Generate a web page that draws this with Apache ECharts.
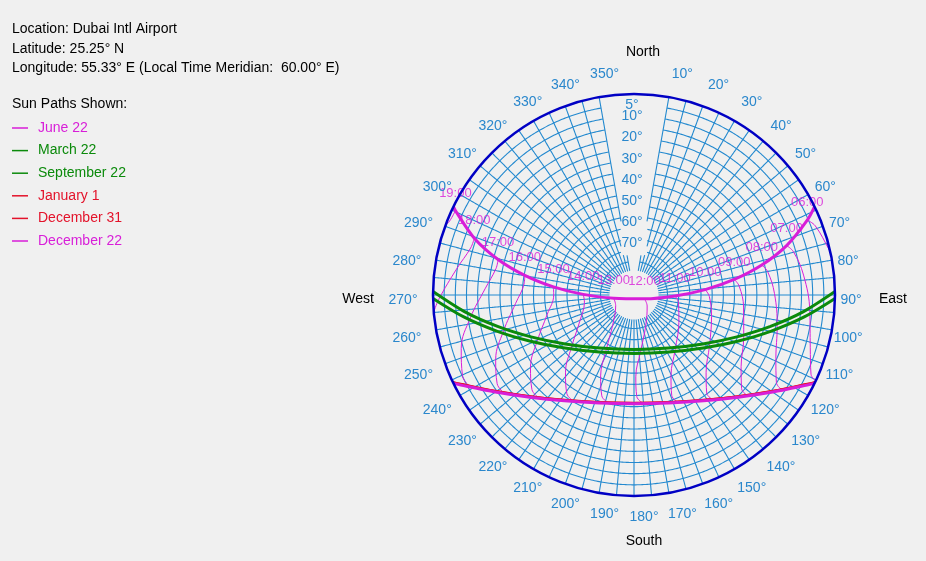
<!DOCTYPE html>
<html>
<head>
<meta charset="utf-8">
<script src="https://cdn.jsdelivr.net/npm/echarts@6/dist/echarts.min.js"></script>
<style>
  html, body { margin: 0; padding: 0; background: #f0f0f0; }
  #chart { width: 926px; height: 561px; }
</style>
</head>
<body>
<div id="chart"></div>
<script>
// Sun positions are [altitude in degrees, azimuth in degrees clockwise from north].

const june22 = [[0, 63.91], [5.49, 66.64], [18.18, 72.06], [31.25, 76.81], [44.57, 81.21], [58.04, 85.70],
  [71.62, 91.40], [85.00, 110.15], [80.82, 260.69], [67.28, 270.70], [53.76, 275.77], [40.30, 280.18],
  [27.08, 284.64], [14.11, 289.57], [1.56, 295.28], [0, 296.09]];

const march22 = [[0, 89.0], [13.93, 95.69], [27.31, 102.94], [40.25, 112.12], [52.18, 125.39], [61.67, 146.95],
  [65.65, 180], [61.67, 213.05], [52.18, 234.61], [40.25, 247.88], [27.31, 257.06], [13.93, 264.31], [0, 271.0]];

const september22 = [[0, 91.0], [13.14, 97.35], [26.45, 104.72], [39.25, 114.07], [50.94, 127.50], [60.09, 148.73],
  [63.85, 180], [60.09, 211.27], [50.94, 232.50], [39.25, 245.93], [26.45, 255.28], [13.14, 262.65], [0, 269.0]];

const january1 = [[0, 115.6], [2.80, 117.10], [14.45, 124.60], [24.96, 134.12], [33.66, 146.43], [39.60, 161.99],
  [41.75, 180], [39.60, 198.01], [33.66, 213.57], [24.96, 225.88], [14.45, 235.40], [2.80, 242.90], [0, 244.4]];

const december31 = [[0, 115.7], [2.76, 117.18], [14.40, 124.67], [24.90, 134.19], [33.58, 146.49], [39.52, 162.03],
  [41.66, 180], [39.52, 197.97], [33.58, 213.51], [24.90, 225.81], [14.40, 235.33], [2.76, 242.82], [0, 244.3]];

const december22 = [[0, 116.09], [2.59, 117.49], [14.19, 124.96], [24.65, 134.45], [33.29, 146.71], [39.18, 162.16],
  [41.31, 180], [39.18, 197.84], [33.29, 213.29], [24.65, 225.55], [14.19, 235.04], [2.59, 242.51], [0, 243.91]];

// Clock-hour lines, running Jun 22 -> Jul -> Aug -> Sep -> Oct -> Nov -> Dec 22 (cut at the horizon)
const hourLabels = ['06:00', '07:00', '08:00', '09:00', '10:00', '11:00', '12:00',
  '13:00', '14:00', '15:00', '16:00', '17:00', '18:00', '19:00'];

const hourLines = [
  [[5.49, 66.64], [3.13, 69.11], [0.21, 77.14], [0, 78.0]],
  [[18.18, 72.06], [16.03, 74.83], [13.57, 83.29], [10.96, 95.24], [7.68, 106.51], [3.17, 114.11], [0, 115.3]],
  [[31.25, 76.81], [29.27, 80.02], [27.10, 89.40], [24.36, 102.33], [20.40, 114.12], [15.17, 121.56], [11.00, 122.67]],
  [[44.57, 81.21], [42.73, 85.18], [40.65, 96.28], [37.34, 111.09], [32.28, 123.81], [26.12, 131.03], [21.84, 131.52]],
  [[58.04, 85.70], [56.27, 91.08], [53.97, 105.50], [49.44, 123.43], [42.65, 137.01], [35.37, 143.42], [31.08, 142.92]],
  [[71.62, 91.40], [69.76, 100.12], [66.45, 121.42], [59.41, 142.91], [50.26, 155.37], [41.90, 159.42], [37.86, 157.47]],
  [[85.00, 110.15], [82.33, 129.88], [75.54, 158.48], [64.61, 173.30], [53.34, 178.74], [44.54, 178.43], [41.14, 174.82]],
  [[80.82, 260.69], [80.50, 239.66], [73.70, 215.65], [62.17, 206.74], [50.82, 202.42], [42.61, 197.72], [40.21, 192.95]],
  [[67.28, 270.70], [67.57, 261.84], [63.09, 244.31], [53.60, 230.22], [43.58, 221.36], [36.62, 214.30], [35.29, 209.23]],
  [[53.76, 275.77], [54.04, 270.00], [50.23, 257.52], [42.14, 244.74], [33.44, 235.02], [27.73, 227.22], [27.32, 222.38]],
  [[40.30, 280.18], [40.50, 275.70], [36.79, 265.83], [29.40, 254.59], [21.67, 245.00], [17.00, 237.09], [17.30, 232.59]],
  [[27.08, 284.64], [27.08, 280.82], [23.25, 272.37], [16.11, 262.17], [9.01, 252.78], [5.13, 244.81], [5.96, 240.56]],
  [[14.11, 289.57], [13.89, 286.06], [9.75, 278.42], [2.60, 268.77], [0, 265.1]],
  [[1.56, 295.28], [1.06, 291.91], [0, 290.3]]
];

const azimuthTicks = [10, 20, 30, 40, 50, 60, 70, 80, 90, 100, 110, 120, 130, 140, 150, 160, 170, 180,
  190, 200, 210, 220, 230, 240, 250, 260, 270, 280, 290, 300, 310, 320, 330, 340, 350];
const altitudeTicks = [5, 10, 20, 30, 40, 50, 60, 70];

const headerLines = ['Location: Dubai Intl Airport', 'Latitude: 25.25° N',
  'Longitude: 55.33° E (Local Time Meridian:  60.00° E)'];

// ---- styling ----
const FONT = '"Liberation Sans", Arial, sans-serif';
const MAGENTA = '#d81ed8';
const GREEN = '#0b8a0b';
const RED = '#e3122a';
const GRID = '#2389cf';
const BLUE_TEXT = '#2a87cc';
const CX = 634, CY = 295, R = 201;
const RAD = Math.PI / 180;

// Sky grid: altitude rings and azimuth spokes every 5°. The north sector and a strip
// under the altitude scale stay open, and so does the zenith.
function isOpen(alt, az) {
  const d = 90 - alt;                       // angular distance from zenith
  const a = ((az + 180) % 360 + 360) % 360 - 180;
  if (Math.abs(a) < 10 - 1e-9) return true;
  return Math.abs(d * Math.sin(a * RAD)) < 5.8 && d * Math.cos(a * RAD) > 17.9;
}
function clipRun(points) {
  const out = [];
  let cur = [];
  points.forEach(p => {
    if (isOpen(p[0], p[1])) { if (cur.length > 1) out.push(cur); cur = []; }
    else cur.push(p);
  });
  if (cur.length > 1) out.push(cur);
  return out;
}
const gridLines = [];
for (let alt = 5; alt <= 75; alt += 5) {
  const ring = [];
  for (let az = 0; az <= 360; az += 0.5) ring.push([alt, az]);
  gridLines.push(...clipRun(ring));
}
for (let az = 0; az < 360; az += 5) {
  const spoke = [];
  for (let alt = 0; alt <= 79; alt += 0.5) spoke.push([alt, az]);
  gridLines.push(...clipRun(spoke));
}

// drawing order: red year-end paths under the December 22 path
const pathSeries = [
  { name: 'June 22', data: june22, color: MAGENTA, width: 3 },
  { name: 'March 22', data: march22, color: GREEN, width: 3 },
  { name: 'September 22', data: september22, color: GREEN, width: 3 },
  { name: 'December 31', data: december31, color: RED, width: 2 },
  { name: 'January 1', data: january1, color: RED, width: 2 },
  { name: 'December 22', data: december22, color: MAGENTA, width: 3 }
].map(s => ({
  type: 'line', name: s.name, coordinateSystem: 'polar', data: s.data,
  color: s.color, showSymbol: false, smooth: 0.3, silent: true, z: 4,
  lineStyle: { color: s.color, width: s.width }
}));

const legendOrder = [
  ['June 22', MAGENTA], ['March 22', GREEN], ['September 22', GREEN],
  ['January 1', RED], ['December 31', RED], ['December 22', MAGENTA]
];

const textStyleOf = (text, fill, extra) => Object.assign({ text, fill, font: '14px ' + FONT }, extra || {});

const option = {
  backgroundColor: '#f0f0f0',
  animation: false,
  textStyle: { fontFamily: FONT },
  polar: { center: [CX, CY], radius: R },
  angleAxis: {
    type: 'value', min: 0, max: 360, interval: 10, startAngle: 90, clockwise: true, z: 6,
    axisLine: { show: true, lineStyle: { color: '#0000c4', width: 2.5 } },
    axisTick: { show: false }, splitLine: { show: false }, axisLabel: { show: false }
  },
  radiusAxis: {
    type: 'value', min: 0, max: 90, interval: 5, inverse: true,
    axisLine: { show: false }, axisTick: { show: false }, splitLine: { show: false }, axisLabel: { show: false }
  },
  legend: {
    orient: 'vertical', left: 12, top: 121, padding: 0, itemWidth: 16, itemHeight: 1.5, itemGap: 8.6,
    icon: 'rect', selectedMode: false,
    textStyle: { fontSize: 14, fontFamily: FONT, lineHeight: 14, padding: [0, 0, 0, 5] },
    data: legendOrder.map(([name, color]) => ({ name, textStyle: { color } }))
  },
  graphic: [
    ...headerLines.map((t, i) => ({ type: 'text', left: 12, top: [22, 42, 61][i], style: textStyleOf(t, '#000') })),
    { type: 'text', left: 12, top: 97, style: textStyleOf('Sun Paths Shown:', '#000') },
    { type: 'text', x: CX + 9, y: CY - 243, style: textStyleOf('North', '#000', { align: 'center', verticalAlign: 'middle' }) },
    { type: 'text', x: CX + 10, y: CY + 246, style: textStyleOf('South', '#000', { align: 'center', verticalAlign: 'middle' }) },
    { type: 'text', x: CX + 259, y: CY + 4, style: textStyleOf('East', '#000', { align: 'center', verticalAlign: 'middle' }) },
    { type: 'text', x: CX - 276, y: CY + 4, style: textStyleOf('West', '#000', { align: 'center', verticalAlign: 'middle' }) }
  ],
  series: [
    {
      type: 'custom', name: 'grid', coordinateSystem: 'polar', silent: true, z: 1,
      data: gridLines.map(() => [0, 0]),
      renderItem: (params, api) => ({
        type: 'polyline',
        shape: { points: gridLines[params.dataIndex].map(p => api.coord(p)) },
        style: { stroke: GRID, lineWidth: 1.1, fill: null }
      })
    },
    {
      // azimuth scale around the horizon circle
      type: 'custom', name: 'azimuth', coordinateSystem: 'polar', silent: true, z: 6,
      data: azimuthTicks.map(a => [0, a]),
      renderItem: (params, api) => {
        const az = azimuthTicks[params.dataIndex];
        const p = api.coord([0, az]);
        const c = Math.cos(az * RAD), s = Math.sin(az * RAD);
        return {
          type: 'text',
          x: CX + (p[0] - CX) * 224 / R - 7 + 17 * c * c,
          y: CY + (p[1] - CY) * 223 / R - 1 + 6 * s * s,
          style: textStyleOf(az + '°', BLUE_TEXT, { align: 'center', verticalAlign: 'middle' })
        };
      }
    },
    {
      // altitude scale in the open north sector
      type: 'custom', name: 'altitude', coordinateSystem: 'polar', silent: true, z: 6,
      data: altitudeTicks.map(a => [a, 0]),
      renderItem: (params, api) => {
        const alt = altitudeTicks[params.dataIndex];
        const p = api.coord([alt, 0]);
        return {
          type: 'text', x: p[0] - 2, y: p[1] - 0.11 * alt + 1,
          style: textStyleOf(alt + '°', BLUE_TEXT, { align: 'center', verticalAlign: 'middle' })
        };
      }
    },
    ...hourLines.map((line, i) => ({
      type: 'line', name: 'hour ' + hourLabels[i], coordinateSystem: 'polar', data: line,
      showSymbol: false, smooth: 0.4, silent: true, z: 3,
      lineStyle: { color: MAGENTA, width: 1 }
    })),
    ...pathSeries,
    {
      type: 'scatter', name: 'hour labels', coordinateSystem: 'polar', silent: true, z: 5,
      data: hourLines.map(l => l[0]), symbolSize: 0,
      label: {
        show: true, position: 'top', distance: 11, color: MAGENTA, fontSize: 13, fontFamily: FONT,
        formatter: p => hourLabels[p.dataIndex]
      }
    }
  ]
};

const chart = echarts.init(document.getElementById('chart'), null, { renderer: 'canvas' });
chart.setOption(option);
</script>
</body>
</html>
